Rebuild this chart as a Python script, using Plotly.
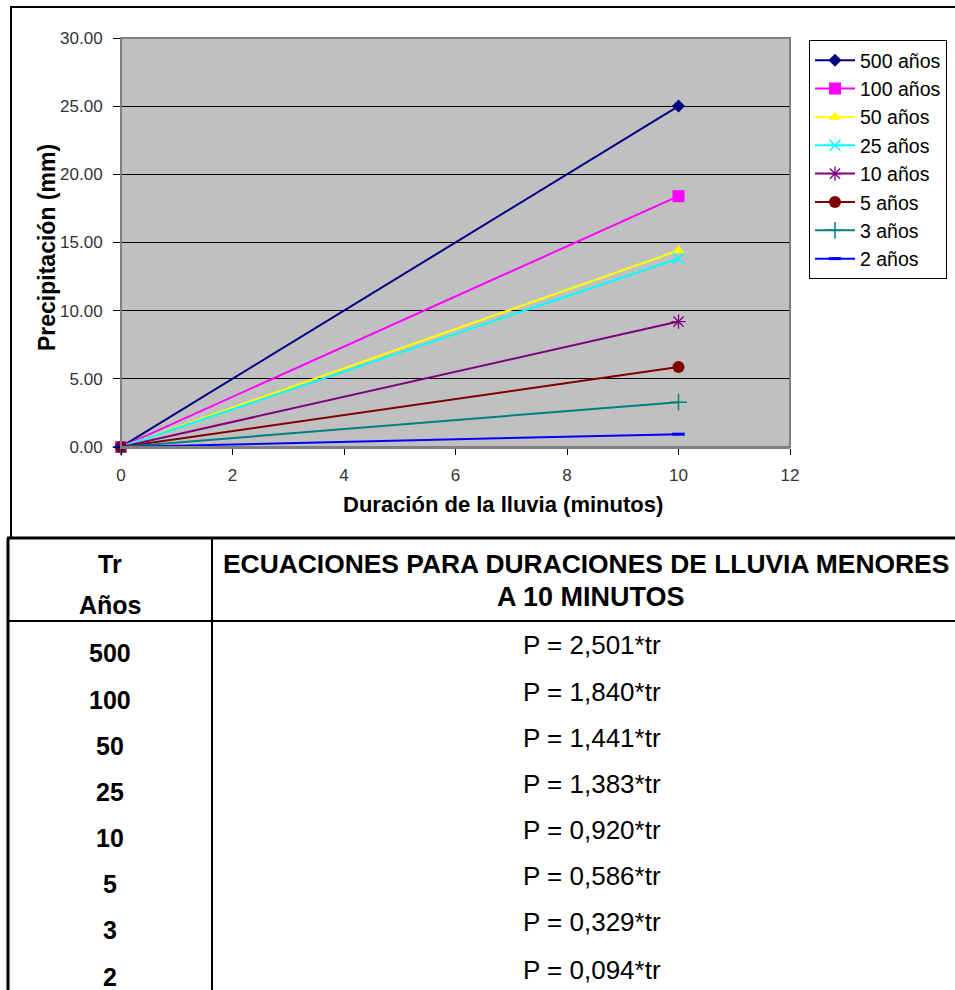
import plotly.graph_objects as go

# Return periods and rainfall depth at 10 minutes for each curve
series_names = ["500 años", "100 años", "50 años", "25 años", "10 años", "5 años", "3 años", "2 años"]
duration_min = [0, 10]
precip_at_0 = [0, 0, 0, 0, 0, 0, 0, 0]
precip_at_10 = [25.01, 18.40, 14.41, 13.83, 9.20, 5.86, 3.29, 0.94]

# Table contents
tr_years = ["500", "100", "50", "25", "10", "5", "3", "2"]
equation_coef = ["2,501", "1,840", "1,441", "1,383", "0,920", "0,586", "0,329", "0,094"]

x_ticks = [0, 2, 4, 6, 8, 10, 12]
y_ticks = [0, 5, 10, 15, 20, 25, 30]

colors = ["#000080", "#FF00FF", "#FFFF00", "#00FFFF", "#800080", "#800000", "#008080", "#0000FF"]
symbols = ["diamond", "square", "triangle-up", "x-thin-open", "asterisk-open", "circle", "cross-thin-open", "line-ew-open"]
sizes = [10, 12, 11, 11, 12, 12, 12, 9]
marker_line = [0, 0, 0, 1.5, 1.3, 0, 1.5, 3]

W, H = 955, 990
FONT = "Liberation Sans, Arial, sans-serif"


def px(x):
    return min(max(x / W, 0), 1)


def py(y):
    return min(max(1 - y / H, 0), 1)


fig = go.Figure()
for name, y0, y1, c, s, sz, lw in zip(series_names, precip_at_0, precip_at_10, colors, symbols, sizes, marker_line):
    fig.add_trace(go.Scatter(
        x=duration_min, y=[y0, y1], name=name, mode="lines+markers",
        line=dict(color=c, width=2),
        marker=dict(symbol=s, size=sz, color=c, line=dict(color=c, width=lw)),
        cliponaxis=False,
    ))

fig.update_layout(
    width=W, height=H, autosize=False,
    margin=dict(l=0, r=0, t=0, b=0, pad=0, autoexpand=False),
    paper_bgcolor="white",
    plot_bgcolor="#C0C0C0",
    font=dict(family=FONT, color="black"),
    showlegend=True,
    legend=dict(
        x=px(809), y=py(40), xanchor="left", yanchor="top",
        bgcolor="white", bordercolor="black", borderwidth=1,
        font=dict(size=19.5, color="black", family=FONT),
        itemwidth=40, tracegroupgap=0,
    ),
    xaxis=dict(
        domain=[px(121), px(790)], range=[0, 12], tickvals=x_ticks, automargin=False,
        showgrid=False, zeroline=False,
        showline=True, linecolor="#808080", linewidth=2,
        ticks="outside", ticklen=6, tickcolor="black", tickwidth=1,
        ticklabelstandoff=6,
        tickfont=dict(size=17, color="#333333"),
    ),
    yaxis=dict(
        domain=[py(447), py(38)], range=[0, 30], tickvals=y_ticks, tickformat=".2f", automargin=False,
        showgrid=True, gridcolor="black", gridwidth=1, zeroline=False,
        showline=True, linecolor="black", linewidth=1,
        ticks="outside", ticklen=7, tickcolor="black", tickwidth=1,
        ticklabelstandoff=7,
        tickfont=dict(size=17, color="#333333"),
    ),
)

shapes = []
# plot-area border (top / right)
shapes.append(dict(type="rect", xref="x domain", yref="y domain", x0=0, x1=1, y0=0, y1=1,
                   line=dict(color="#808080", width=2), layer="above"))
# chart frame
shapes.append(dict(type="line", xref="paper", yref="paper", x0=px(10), x1=1, y0=py(7), y1=py(7),
                   line=dict(color="black", width=2)))
shapes.append(dict(type="line", xref="paper", yref="paper", x0=px(11), x1=px(11), y0=py(7), y1=py(538),
                   line=dict(color="black", width=2)))
# table grid
shapes.append(dict(type="line", xref="paper", yref="paper", x0=px(7), x1=1, y0=py(538), y1=py(538),
                   line=dict(color="black", width=3)))
shapes.append(dict(type="line", xref="paper", yref="paper", x0=px(7), x1=1, y0=py(621), y1=py(621),
                   line=dict(color="black", width=2)))
shapes.append(dict(type="line", xref="paper", yref="paper", x0=px(8), x1=px(8), y0=py(538), y1=0,
                   line=dict(color="black", width=3)))
shapes.append(dict(type="line", xref="paper", yref="paper", x0=px(212), x1=px(212), y0=py(538), y1=0,
                   line=dict(color="black", width=2)))
fig.update_layout(shapes=shapes)


def label(text, x, y, size, xanchor="center", angle=0):
    return dict(text=text, x=px(x), y=py(y), xref="paper", yref="paper",
                xanchor=xanchor, yanchor="middle", textangle=angle,
                showarrow=False, font=dict(size=size, color="black"))


ann = []
# axis titles
ann.append(label("<b>Precipitación (mm)</b>", 47, 248, 23, angle=-90))
ann.append(label("<b>Duración de la lluvia (minutos)</b>", 503, 505, 22))
# table header
ann.append(label("<b>Tr</b>", 110, 564, 25))
ann.append(label("<b>Años</b>", 110, 605, 25))
ann.append(label("<b>ECUACIONES PARA DURACIONES DE LLUVIA MENORES</b>", 221, 564, 26.4, xanchor="left"))
ann.append(label("<b>A 10 MINUTOS</b>", 591, 597, 27))
# table rows
row_tr_y = [653, 700, 746, 792, 838, 884, 930, 977]
row_eq_y = [645, 692, 738, 784, 830, 876, 922, 970]
for tr, coef, yt, ye in zip(tr_years, equation_coef, row_tr_y, row_eq_y):
    ann.append(label(f"<b>{tr}</b>", 110, yt, 25))
    ann.append(label(f"P = {coef}*tr", 592, ye, 26))
fig.update_layout(annotations=ann)

fig.write_html("out.html")
